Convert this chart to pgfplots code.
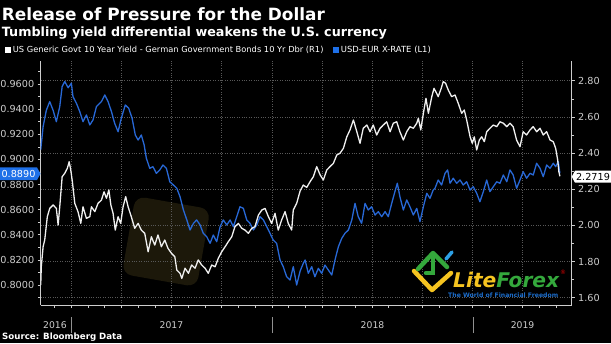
\documentclass[border=0pt]{standalone}
\usepackage{pgfplots}
\usepackage{pgfplotstable}
\pgfplotsset{compat=1.18}
\usepackage{fontspec}
\setmainfont{DejaVu Sans}
\definecolor{bblue}{RGB}{40,104,214}
\definecolor{boxblue}{RGB}{30,112,232}
\definecolor{tgray}{RGB}{205,205,205}
\definecolor{ggray}{RGB}{88,88,88}
\definecolor{lfyellow}{RGB}{246,196,32}
\definecolor{lfgreen}{RGB}{52,168,60}
\definecolor{lfblue}{RGB}{28,110,205}
\definecolor{lfsky}{RGB}{45,160,230}
\definecolor{wmark}{RGB}{28,24,10}

% USD-EUR X-RATE (left axis)
\pgfplotstableread{
x y
2016.847 0.9075
2016.859 0.926
2016.875 0.939
2016.892 0.946
2016.909 0.939
2016.925 0.930
2016.942 0.942
2016.954 0.958
2016.967 0.962
2016.984 0.957
2017.000 0.9606
2017.008 0.950
2017.025 0.9447
2017.042 0.938
2017.058 0.930
2017.075 0.9354
2017.092 0.9274
2017.108 0.9314
2017.125 0.942
2017.150 0.946
2017.167 0.9513
2017.183 0.946
2017.200 0.938
2017.216 0.9287
2017.233 0.922
2017.249 0.9327
2017.269 0.9433
2017.286 0.9407
2017.303 0.9327
2017.319 0.9194
2017.333 0.9154
2017.349 0.9194
2017.363 0.9115
2017.374 0.9009
2017.391 0.8929
2017.407 0.8942
2017.424 0.8889
2017.441 0.8916
2017.457 0.8955
2017.474 0.8929
2017.491 0.8822
2017.509 0.8796
2017.526 0.877
2017.542 0.8703
2017.559 0.8597
2017.576 0.8518
2017.592 0.8438
2017.609 0.8491
2017.625 0.8518
2017.642 0.8478
2017.658 0.8412
2017.675 0.8385
2017.692 0.8332
2017.708 0.8398
2017.725 0.8345
2017.742 0.8464
2017.758 0.8518
2017.775 0.8478
2017.792 0.8518
2017.808 0.8464
2017.825 0.8544
2017.841 0.8623
2017.858 0.861
2017.875 0.8518
2017.891 0.8491
2017.908 0.8438
2017.925 0.8478
2017.941 0.8544
2017.958 0.8518
2017.975 0.8464
2017.991 0.8412
2018.007 0.8358
2018.024 0.8332
2018.041 0.8199
2018.057 0.8146
2018.074 0.8066
2018.091 0.804
2018.107 0.8146
2018.124 0.800
2018.141 0.811
2018.157 0.8173
2018.166 0.8199
2018.182 0.8093
2018.199 0.8146
2018.215 0.8066
2018.232 0.8133
2018.249 0.8093
2018.265 0.8159
2018.282 0.8119
2018.299 0.808
2018.315 0.8199
2018.332 0.8305
2018.349 0.8372
2018.365 0.8412
2018.382 0.8438
2018.399 0.8518
2018.415 0.865
2018.431 0.8544
2018.448 0.8491
2018.465 0.865
2018.481 0.8597
2018.498 0.8623
2018.515 0.8557
2018.531 0.8584
2018.548 0.8544
2018.565 0.8584
2018.581 0.8544
2018.598 0.865
2018.614 0.8743
2018.626 0.881
2018.639 0.8703
2018.656 0.8597
2018.673 0.8677
2018.689 0.8623
2018.706 0.8557
2018.723 0.861
2018.739 0.8504
2018.756 0.8623
2018.773 0.873
2018.789 0.869
2018.805 0.8756
2018.814 0.877
2018.830 0.8836
2018.847 0.8796
2018.864 0.8889
2018.877 0.8916
2018.889 0.881
2018.905 0.885
2018.922 0.881
2018.939 0.8836
2018.955 0.8796
2018.972 0.8822
2018.989 0.8756
2019.005 0.8783
2019.022 0.873
2019.038 0.8663
2019.055 0.8743
2019.072 0.8836
2019.088 0.8743
2019.105 0.8783
2019.122 0.8822
2019.138 0.881
2019.155 0.8876
2019.172 0.8822
2019.188 0.8916
2019.204 0.8876
2019.221 0.877
2019.238 0.8836
2019.254 0.8902
2019.271 0.885
2019.288 0.8889
2019.304 0.8876
2019.321 0.8969
2019.338 0.8929
2019.354 0.8862
2019.371 0.8955
2019.388 0.8929
2019.404 0.8969
2019.416 0.8942
2019.429 0.8982
2019.437 0.8890
}\usdeur

% US 10Y - German 10Y yield spread (right axis)
\pgfplotstableread{
x y
2016.847 1.670
2016.850 1.7715
2016.859 1.882
2016.867 1.919
2016.880 2.048
2016.892 2.094
2016.909 2.113
2016.925 2.094
2016.934 2.002
2016.942 2.103
2016.954 2.269
2016.967 2.288
2016.980 2.316
2016.989 2.352
2016.997 2.306
2017.005 2.242
2017.017 2.122
2017.033 2.076
2017.047 2.011
2017.058 2.103
2017.075 2.039
2017.092 2.048
2017.100 2.103
2017.117 2.076
2017.133 2.122
2017.150 2.140
2017.163 2.186
2017.175 2.150
2017.187 2.196
2017.197 2.113
2017.208 2.067
2017.219 1.974
2017.233 2.048
2017.246 2.011
2017.258 2.103
2017.271 2.159
2017.283 2.103
2017.299 2.048
2017.316 1.984
2017.333 2.011
2017.349 1.974
2017.366 1.956
2017.383 1.854
2017.399 1.937
2017.416 1.891
2017.432 1.947
2017.449 1.882
2017.466 1.919
2017.482 1.873
2017.499 1.846
2017.516 1.827
2017.526 1.753
2017.542 1.735
2017.551 1.707
2017.567 1.763
2017.584 1.735
2017.600 1.781
2017.617 1.763
2017.633 1.809
2017.650 1.781
2017.667 1.763
2017.683 1.735
2017.700 1.781
2017.717 1.771
2017.733 1.818
2017.750 1.854
2017.767 1.882
2017.783 1.910
2017.800 1.937
2017.816 1.993
2017.833 2.011
2017.850 1.984
2017.866 1.974
2017.883 1.956
2017.900 1.984
2017.916 1.993
2017.933 2.057
2017.950 2.085
2017.966 2.094
2017.983 2.048
2017.999 2.011
2018.016 2.067
2018.032 1.974
2018.049 2.030
2018.066 2.076
2018.082 2.011
2018.099 1.974
2018.107 2.085
2018.124 2.122
2018.141 2.190
2018.157 2.223
2018.174 2.210
2018.191 2.242
2018.207 2.269
2018.224 2.325
2018.241 2.279
2018.257 2.251
2018.274 2.306
2018.290 2.325
2018.307 2.343
2018.324 2.389
2018.340 2.399
2018.357 2.426
2018.374 2.490
2018.390 2.528
2018.407 2.583
2018.424 2.518
2018.440 2.454
2018.456 2.537
2018.474 2.555
2018.490 2.518
2018.506 2.555
2018.523 2.500
2018.540 2.537
2018.556 2.555
2018.573 2.573
2018.590 2.518
2018.606 2.565
2018.623 2.573
2018.639 2.518
2018.656 2.472
2018.673 2.518
2018.689 2.546
2018.706 2.537
2018.723 2.565
2018.731 2.592
2018.743 2.528
2018.756 2.620
2018.769 2.703
2018.781 2.620
2018.798 2.712
2018.809 2.758
2018.822 2.731
2018.830 2.712
2018.845 2.758
2018.855 2.795
2018.867 2.786
2018.880 2.749
2018.897 2.712
2018.914 2.721
2018.930 2.675
2018.947 2.620
2018.960 2.638
2018.972 2.583
2018.989 2.490
2019.000 2.454
2019.010 2.490
2019.022 2.417
2019.035 2.472
2019.047 2.490
2019.060 2.463
2019.072 2.518
2019.088 2.537
2019.105 2.555
2019.122 2.546
2019.138 2.573
2019.155 2.565
2019.172 2.546
2019.188 2.565
2019.204 2.546
2019.221 2.472
2019.238 2.435
2019.254 2.518
2019.271 2.500
2019.288 2.528
2019.304 2.546
2019.321 2.518
2019.338 2.537
2019.354 2.500
2019.371 2.518
2019.388 2.472
2019.404 2.463
2019.416 2.426
2019.426 2.362
2019.432 2.297
2019.437 2.2719
}\spread

\pgfplotsset{
  base/.style={
    scale only axis, width=531bp, height=244bp,
    at={(40.7bp,38bp)}, anchor=south west,
    xmin=2016.847, xmax=2019.496,
    tick align=outside, major tick length=3bp, minor tick length=2.5bp,
    every tick/.style={tgray, line width=0.6bp},
    every minor tick/.style={tgray, line width=0.6bp},
    axis line style={tgray, line width=0.8bp},
    ticklabel style={font=\fontsize{9.7}{11}\selectfont, text=tgray},
    /pgf/number format/assume math mode=true,
  }
}

\begin{document}
\begin{tikzpicture}[x=1bp,y=1bp]
\fill[black] (0,0) rectangle (611,343);
\useasboundingbox (0,0) rectangle (611,343);

% faint watermark
\fill[wmark, rotate around={-10:(166,101)}, rounded corners=10bp] (128,62) rectangle (204,141);

% grid + right axis + bottom axis
\begin{axis}[base,
  ymin=1.5596, ymax=2.9092,
  axis y line*=right, axis x line*=bottom,
  ytick={1.6,1.8,2.0,2.2,2.4,2.6,2.8},
  minor ytick={1.7,1.9,2.1,2.3,2.5,2.7},
  yticklabel style={/pgf/number format/.cd, fixed, fixed zerofill, precision=2},
  xtick={2017,2017.25,2017.5,2017.75,2018,2018.25,2018.5,2018.75,2019,2019.25},
  xticklabels={},
  minor xtick={2016.9167,2017.0833,2017.1667,2017.3333,2017.4167,2017.5833,2017.6667,2017.8333,2017.9167,2018.0833,2018.1667,2018.3333,2018.4167,2018.5833,2018.6667,2018.8333,2018.9167,2019.0833,2019.1667,2019.3333,2019.4167},
  grid=major, grid style={ggray, dotted, line width=0.6bp},
]
\end{axis}

% left axis: USD-EUR
\begin{axis}[base,
  ymin=0.7841, ymax=0.9783,
  axis y line*=left, axis x line=none, xtick=\empty,
  ytick={0.80,0.82,0.84,0.86,0.88,0.90,0.92,0.94,0.96},
  minor ytick={0.79,0.81,0.83,0.85,0.87,0.89,0.91,0.93,0.95,0.97},
  yticklabel style={/pgf/number format/.cd, fixed, fixed zerofill, precision=4},
]
\addplot[bblue, line width=1.3bp, line join=round] table {\usdeur};
\end{axis}

% right series: yield spread
\begin{axis}[base, hide axis, xtick=\empty, ytick=\empty, ymin=1.5596, ymax=2.9092]
\addplot[white!94!black, line width=1.3bp, line join=round] table {\spread};
\end{axis}

% last-value labels
\fill[boxblue] (0,163) -- (37,163) -- (40.5,169.3) -- (37,175.6) -- (0,175.6) -- cycle;
\node[text=white, font=\fontsize{9.7}{11}\selectfont, inner sep=0] at (18.5,169.3) {0.8890};
\fill[white] (571.7,166.3) -- (575,160.3) -- (611,160.3) -- (611,172.3) -- (575,172.3) -- cycle;
\node[text=black, font=\fontsize{9.7}{11}\selectfont, inner sep=0] at (593,166.3) {2.2719};

% year labels and separators
\begin{scope}[font=\fontsize{9.3}{11}\selectfont]
\node[text=tgray] at (55,18) {2016};
\node[text=tgray] at (171.5,18) {2017};
\node[text=tgray] at (372.5,18) {2018};
\node[text=tgray] at (522.6,18) {2019};
\end{scope}
\draw[tgray!70!black, line width=0.6bp] (71.5,10) -- (71.5,26);
\draw[tgray!70!black, line width=0.6bp] (272.5,10) -- (272.5,26);
\draw[tgray!70!black, line width=0.6bp] (473,10) -- (473,26);

% titles
\node[anchor=base west, inner sep=0, text=white] at (1.7,323) {\resizebox{323bp}{!}{\bfseries Release of Pressure for the Dollar}};
\node[anchor=base west, inner sep=0, text=white] at (1.7,307) {\resizebox{385bp}{!}{\bfseries Tumbling yield differential weakens the U.S. currency}};

% legend
\fill[white] (5,290.3) rectangle (10.5,296);
\node[anchor=base west, inner sep=0, text=white] at (12.7,290.5) {\resizebox{310.6bp}{!}{US Generic Govt 10 Year Yield - German Government Bonds 10 Yr Dbr (R1)}};
\fill[boxblue] (333,290.3) rectangle (338.5,296);
\node[anchor=base west, inner sep=0, text=white] at (340.7,290.5) {\resizebox{90bp}{!}{USD-EUR X-RATE (L1)}};

% source
\node[anchor=base west, inner sep=0, text=white] at (2,3.5) {\resizebox{120bp}{!}{\bfseries Source: Bloomberg Data}};

% LiteForex logo
\draw[lfyellow, line width=4.5bp, line cap=round, line join=round] (414,72) -- (432,53) -- (451,70);
\draw[lfgreen, line width=4.5bp, line cap=round, line join=round] (418,74) -- (433,90) -- (447,76);
\draw[lfgreen, line width=4.5bp, line cap=round] (433,87) -- (433,70) -- (426,70);
\draw[lfsky, line width=3.5bp, line cap=round] (446,84) -- (452,91);
\node[anchor=base west, inner sep=0] at (453,55.5) {\resizebox{106bp}{!}{\bfseries\itshape\textcolor{lfyellow}{Lite}\textcolor{lfgreen}{Forex}}};
\node[text=red!85!black, font=\fontsize{6}{6}\selectfont, inner sep=0] at (563,71) {®};
\node[anchor=base west, inner sep=0] at (448,45.5) {\resizebox{110bp}{!}{\bfseries\textcolor{lfblue}{The World of Financial Freedom}}};
\end{tikzpicture}
\end{document}
